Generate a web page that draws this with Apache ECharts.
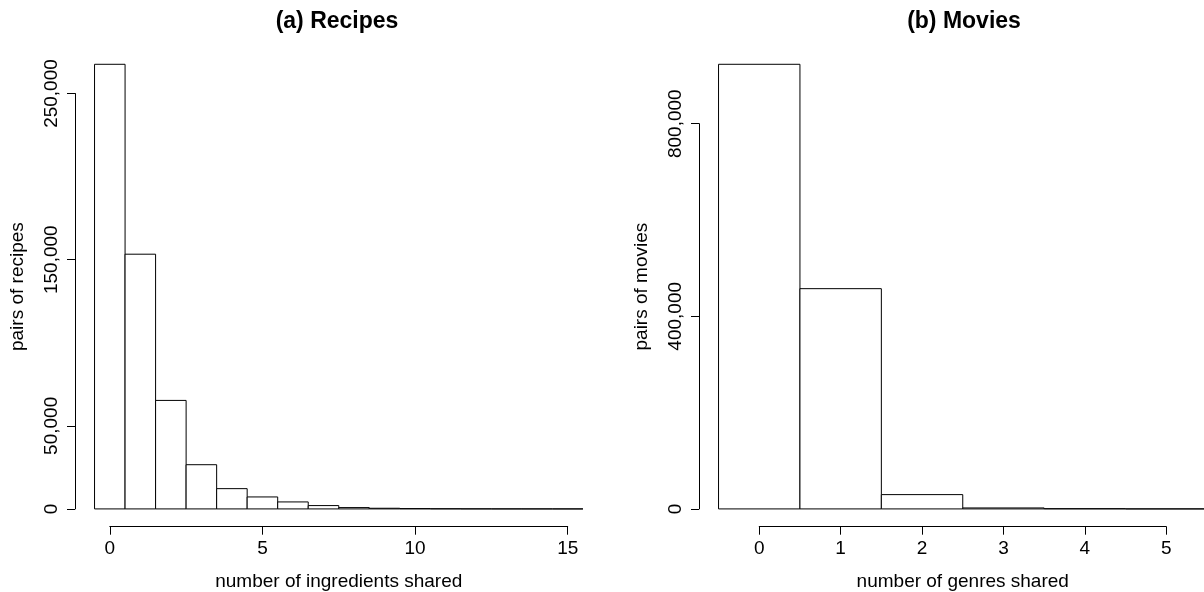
<!DOCTYPE html>
<html><head><meta charset="utf-8">
<script src="https://cdn.jsdelivr.net/npm/echarts@6/dist/echarts.min.js"></script>
<style>html,body{margin:0;padding:0;background:#fff}#c{width:1204px;height:592px}</style>
</head><body><div id="c"></div>
<script>
// ---- data ----
const recipeBins   = [0,1,2,3,4,5,6,7,8,9,10,11,12,13,14,15];
const recipeCounts = [267600,153300,65300,26600,12200,7200,4200,2000,800,400,200,100,50,20,10,5];
const recipeTicksX = [0,5,10,15];
const recipeTicksY = [0,50000,150000,250000];

const movieBins    = [0,1,2,3,4,5];
const movieCounts  = [923400,457400,29700,2000,500,50];
const movieTicksX  = [0,1,2,3,4,5];
const movieTicksY  = [0,400000,800000];

const panelTitles = ['(a) Recipes','(b) Movies'];
const xTitles     = ['number of ingredients shared','number of genres shared'];
const yTitles     = ['pairs of recipes','pairs of movies'];

// ---- layout / style ----
const FONT = '"Liberation Sans", Arial, Helvetica, sans-serif';
const FS = 19;
const regions = [
  {left:75,  top:46.5, width:527.5, height:480.2, titleX:332},
  {left:699, top:46.5, width:527.5, height:480.2, titleX:959}
];
const fmt = v => Math.round(v).toString().replace(/\B(?=(\d{3})+(?!\d))/g, ',');

const option = {
  animation:false,
  backgroundColor:'#fff',
  textStyle:{fontFamily:FONT, color:'#000'},
  title:[], grid:[], xAxis:[], yAxis:[], series:[]
};

function addPanel(p, bins, counts, ticksX, ticksY){
  const R = regions[p];
  const bmin = bins[0]-0.5, bmax = bins[bins.length-1]+0.5;
  const ext = 0.04*(bmax-bmin);
  const xmin = bmin-ext, xmax = bmax+ext;
  const cmax = Math.max(...counts);
  const ymin = -0.04*cmax, ymax = 1.04*cmax;
  const px = v => R.left + (v-xmin)/(xmax-xmin)*R.width;
  const py = v => R.top + (ymax-v)/(ymax-ymin)*R.height;
  const g0 = option.grid.length;
  const hiddenAxis = {axisLine:{show:false},axisTick:{show:false},axisLabel:{show:false},splitLine:{show:false}};
  const gridBase = {outerBoundsMode:'none', containLabel:false};
  // main plotting grid
  option.grid.push(Object.assign({left:R.left, top:R.top, width:R.width, height:R.height}, gridBase));
  option.xAxis.push(Object.assign({type:'value', gridIndex:g0, min:xmin, max:xmax,
    name:xTitles[p], nameLocation:'middle', nameGap:46,
    nameTextStyle:{fontSize:FS, color:'#000', fontFamily:FONT}}, hiddenAxis));
  option.yAxis.push(Object.assign({type:'value', gridIndex:g0, min:ymin, max:ymax,
    name:yTitles[p], nameLocation:'middle', nameGap:48,
    nameTextStyle:{fontSize:FS, color:'#000', fontFamily:FONT}}, hiddenAxis));
  // x-axis grid (axis spans first..last tick)
  const tx0 = ticksX[0], tx1 = ticksX[ticksX.length-1];
  option.grid.push(Object.assign({left:px(tx0), width:px(tx1)-px(tx0), top:R.top, height:R.height}, gridBase));
  option.xAxis.push({type:'value', gridIndex:g0+1, min:tx0, max:tx1, interval:ticksX[1]-ticksX[0],
    axisLine:{show:true, lineStyle:{color:'#000', width:1}},
    axisTick:{show:true, length:8, lineStyle:{color:'#000', width:1}},
    axisLabel:{show:true, margin:13, fontSize:FS, color:'#000', fontFamily:FONT, showMinLabel:true, showMaxLabel:true},
    splitLine:{show:false}});
  option.yAxis.push(Object.assign({type:'value', gridIndex:g0+1, min:0, max:1}, hiddenAxis));
  // y-axis grid (axis spans first..last tick)
  const ty0 = ticksY[0], ty1 = ticksY[ticksY.length-1];
  option.grid.push(Object.assign({left:R.left, width:R.width, top:py(ty1), height:py(ty0)-py(ty1)}, gridBase));
  option.xAxis.push(Object.assign({type:'value', gridIndex:g0+2, min:0, max:1}, hiddenAxis));
  option.yAxis.push({type:'value', gridIndex:g0+2, min:ty0, max:ty1,
    axisLine:{show:true, lineStyle:{color:'#000', width:1}},
    axisTick:{show:true, length:8, customValues:ticksY, lineStyle:{color:'#000', width:1}},
    axisLabel:{show:true, rotate:90, margin:14, customValues:ticksY, fontSize:FS, color:'#000', fontFamily:FONT,
      formatter:v=>fmt(v)},
    splitLine:{show:false}});
  // title
  option.title.push({text:panelTitles[p], left:R.titleX, top:5, textAlign:'center',
    textStyle:{fontSize:23, fontWeight:'bold', color:'#000', fontFamily:FONT}});
  // histogram bars
  option.series.push({type:'custom', xAxisIndex:g0, yAxisIndex:g0, clip:false,
    data: bins.map((b,i)=>[b, counts[i]]),
    renderItem:(params, api)=>{
      const x = api.value(0), y = api.value(1);
      const a = api.coord([x-0.5, y]);
      const b = api.coord([x+0.5, 0]);
      return {type:'rect', shape:{x:a[0], y:a[1], width:b[0]-a[0], height:b[1]-a[1]},
        style:{fill:'#fff', stroke:'#000', lineWidth:1}};
    }});
}

addPanel(0, recipeBins, recipeCounts, recipeTicksX, recipeTicksY);
addPanel(1, movieBins, movieCounts, movieTicksX, movieTicksY);

const chart = echarts.init(document.getElementById('c'), null, {renderer:'canvas'});
chart.setOption(option);
</script>
</body></html>
